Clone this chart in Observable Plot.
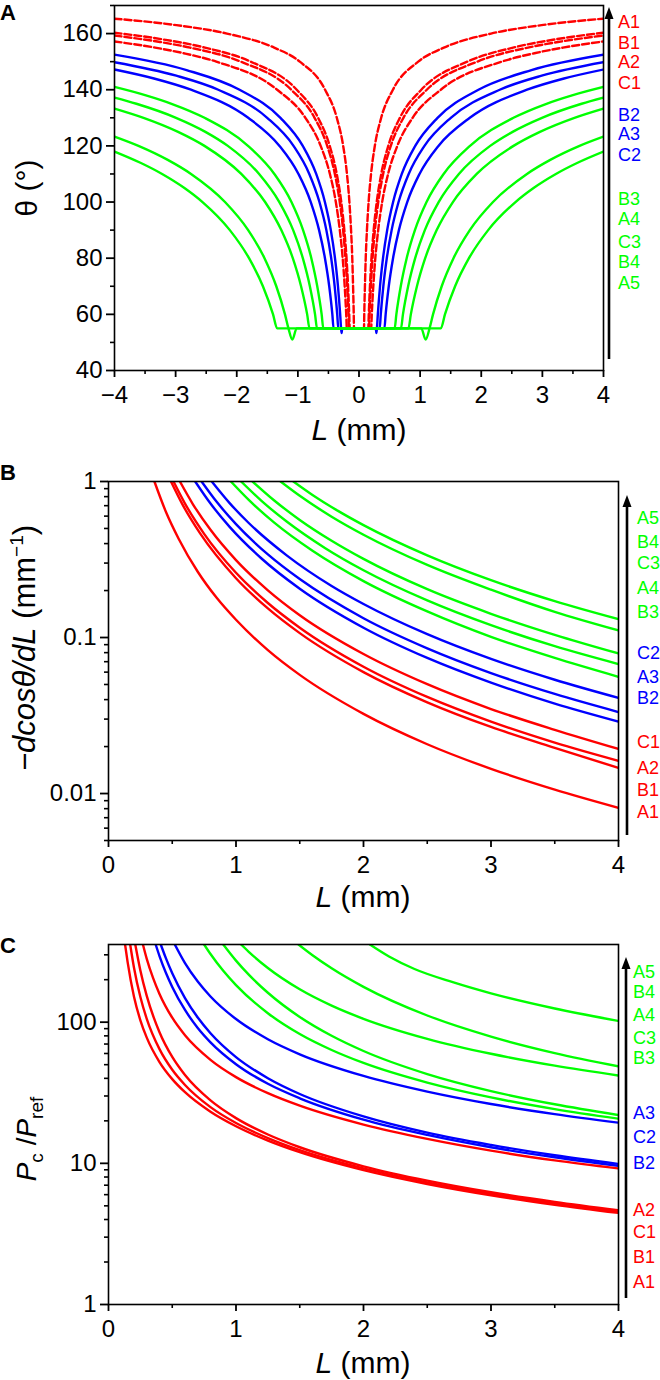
<!DOCTYPE html>
<html><head><meta charset="utf-8">
<script src="https://cdn.jsdelivr.net/npm/d3@7"></script>
<script src="https://cdn.jsdelivr.net/npm/@observablehq/plot@0.6"></script>
<style>
body{margin:0;background:#fff;}
#wrap{position:relative;width:660px;height:1380px;}
#wrap svg{position:absolute;left:0;overflow:visible;}
</style></head><body><div id="wrap"></div>
<script>
const FONT = '"Liberation Sans", Arial, sans-serif';
const RED = "#ff0000", BLUE = "#0000ff", GREEN = "#00ff00";

// ---------------- Panel A: theta (deg) vs L (mm), right half [L, theta]; left half is the mirror image
const a_A1 = [[0.082,55],[0.086,60],[0.097,70],[0.11,80],[0.13,90],[0.157,100],[0.197,110],[0.259,120],[0.363,130],[0.555,140],[0.969,150],[1.388,155],[2.16,160],[2.986,163],[4,165.3]];
const a_B1 = [[0.152,55],[0.16,60],[0.179,70],[0.204,80],[0.24,90],[0.29,100],[0.364,110],[0.479,120],[0.669,130],[1.019,140],[1.771,150],[2.521,155],[3.23,158],[4,160.3]];
const a_A2 = [[0.165,55],[0.173,60],[0.194,70],[0.222,80],[0.26,90],[0.315,100],[0.395,110],[0.52,120],[0.727,130],[1.109,140],[1.935,150],[2.763,155],[3.254,157],[4,159.3]];
const a_C1 = [[0.199,55],[0.209,60],[0.234,70],[0.267,80],[0.314,90],[0.379,100],[0.476,110],[0.627,120],[0.877,130],[1.339,140],[2.335,150],[2.869,153],[3.336,155],[4,157.2]];
const a_B2 = [[0.275,55],[0.284,53.3],[0.293,55],[0.308,60],[0.344,70],[0.393,80],[0.461,90],[0.558,100],[0.7,110],[0.92,120],[1.285,130],[1.954,140],[2.821,147],[4,152.5]];
const a_A3 = [[0.339,55],[0.356,60],[0.398,70],[0.455,80],[0.534,90],[0.647,100],[0.813,110],[1.071,120],[1.502,130],[2.302,140],[2.989,145],[4,149.8]];
const a_C2 = [[0.416,55],[0.436,60],[0.487,70],[0.557,80],[0.653,90],[0.789,100],[0.99,110],[1.3,120],[1.813,130],[2.749,140],[3.354,144],[4,147.2]];
const a_B3 = [[0.583,55],[0.611,60],[0.683,70],[0.78,80],[0.915,90],[1.105,100],[1.385,110],[1.816,120],[2.527,130],[3.067,135],[3.486,138],[4,141]];
const a_A4 = [[0.686,55],[0.719,60],[0.804,70],[0.919,80],[1.077,90],[1.303,100],[1.634,110],[2.146,120],[2.513,125],[2.994,130],[3.642,135],[4,137.2]];
const a_C3 = [[0.809,55],[0.848,60],[0.948,70],[1.083,80],[1.271,90],[1.536,100],[1.926,110],[2.528,120],[2.96,125],[3.525,130],[4,133.3]];
const a_B4 = [[1.02,55],[1.09,51],[1.154,55],[1.211,60],[1.353,70],[1.546,80],[1.813,90],[2.192,100],[2.748,110],[3.129,115],[3.608,120],[4,123.3]];
const a_A5 = [[0,55],[1.339,55],[1.406,60],[1.572,70],[1.799,80],[2.113,90],[2.56,100],[2.856,105],[3.221,110],[3.576,114],[4,118]];
const namesA = ["A1","B1","A2","C1","B2","A3","C2","B3","A4","C3","B4","A5"];
const colorsA = [RED,RED,RED,RED,BLUE,BLUE,BLUE,GREEN,GREEN,GREEN,GREEN,GREEN];
const dataA = [a_A1,a_B1,a_A2,a_C1,a_B2,a_A3,a_C2,a_B3,a_A4,a_C3,a_B4,a_A5];
const xTicksA = [-4,-3,-2,-1,0,1,2,3,4];
const xMinorA = [-3.5,-2.5,-1.5,-0.5,0.5,1.5,2.5,3.5];
const yTicksA = [40,60,80,100,120,140,160];
const yMinorA = [50,70,90,110,130,150,170];

// ---------------- Panel B: -dcos(theta)/dL (mm^-1) vs L (mm) [L, value]
const b_A5 = [[1.45,1],[1.6,0.82],[1.8,0.648],[2,0.525],[2.5,0.336],[3,0.233],[3.5,0.171],[4,0.131]];
const b_B4 = [[1.35,1],[1.5,0.81],[1.75,0.595],[2,0.456],[2.5,0.292],[3,0.2025],[3.5,0.146],[4,0.111]];
const b_C3 = [[1.13,1],[1.3,0.756],[1.5,0.567],[1.75,0.417],[2,0.319],[2.5,0.204],[3,0.142],[3.5,0.104],[4,0.079]];
const b_A4 = [[1.04,1],[1.2,0.751],[1.4,0.552],[1.7,0.374],[2,0.27],[2.5,0.173],[3,0.12],[3.5,0.088],[4,0.0676]];
const b_B3 = [[0.96,1],[1.1,0.762],[1.3,0.545],[1.6,0.36],[2,0.23],[2.5,0.147],[3,0.101],[3.5,0.074],[4,0.056]];
const b_C2 = [[0.81,1],[0.95,0.727],[1.1,0.542],[1.4,0.335],[1.75,0.214],[2,0.164],[2.5,0.105],[3,0.0729],[3.5,0.0536],[4,0.041]];
const b_A3 = [[0.73,1],[0.85,0.738],[1,0.533],[1.25,0.341],[1.5,0.237],[2,0.133],[2.5,0.0853],[3,0.0592],[3.5,0.0435],[4,0.0333]];
const b_B2 = [[0.68,1],[0.8,0.7225],[0.95,0.512],[1.2,0.321],[1.5,0.2055],[2,0.1156],[2.5,0.074],[3,0.0514],[3.5,0.0377],[4,0.0289]];
const b_C1 = [[0.56,1],[0.66,0.72],[0.8,0.49],[1,0.3136],[1.25,0.2007],[1.5,0.139],[2,0.0784],[2.5,0.0502],[3,0.0348],[3.5,0.0256],[4,0.0193]];
const b_A2 = [[0.51,1],[0.6,0.722],[0.75,0.462],[1,0.26],[1.25,0.1664],[1.5,0.1156],[2,0.065],[2.5,0.0416],[3,0.0289],[3.5,0.0212],[4,0.0162]];
const b_B1 = [[0.49,1],[0.58,0.713],[0.72,0.463],[1,0.24],[1.25,0.1536],[1.5,0.1067],[2,0.06],[2.5,0.0384],[3,0.0267],[3.5,0.0196],[4,0.0146]];
const b_A1 = [[0.36,1],[0.45,0.64],[0.55,0.43],[0.7,0.264],[0.85,0.179],[1,0.13],[1.25,0.083],[1.5,0.0576],[2,0.0324],[2.5,0.0207],[3,0.0144],[3.5,0.0106],[4,0.0081]];
const namesB = ["A5","B4","C3","A4","B3","C2","A3","B2","C1","A2","B1","A1"];
const colorsB = [GREEN,GREEN,GREEN,GREEN,GREEN,BLUE,BLUE,BLUE,RED,RED,RED,RED];
const dataB = [b_A5,b_B4,b_C3,b_A4,b_B3,b_C2,b_A3,b_B2,b_C1,b_A2,b_B1,b_A1];
const xTicksB = [0,1,2,3,4];
const xMinorB = [0.5,1.5,2.5,3.5];
const yTicksB = [1,0.1,0.01];
const yMinorB = [0.005,0.006,0.007,0.008,0.009,0.02,0.03,0.04,0.05,0.06,0.07,0.08,0.09,0.2,0.3,0.4,0.5,0.6,0.7,0.8,0.9];

// ---------------- Panel C: Pc/Pref vs L (mm) [L, value]
const c_A5 = [[2.05,355],[2.2,292],[2.4,238],[2.7,192],[3,160],[3.5,125],[4,102]];
const c_B4 = [[1.49,355],[1.6,298],[1.75,241],[2,178],[2.5,111.5],[3,79],[3.5,60.4],[4,48.7]];
const c_A4 = [[1.04,355],[1.1,315],[1.25,242],[1.5,171],[1.75,131],[2,105.7],[2.5,76.2],[3,59.7],[3.5,49.2],[4,41.9]];
const c_C3 = [[0.9,355],[1,273],[1.1,217],[1.25,161.6],[1.5,108.9],[1.75,80.1],[2,62.5],[2.5,42.9],[3,32.5],[3.5,26.2],[4,22]];
const c_B3 = [[0.75,355],[0.8,304],[0.9,231],[1,183],[1.25,115.7],[1.5,82.4],[1.75,63.5],[2,51.4],[2.5,37.3],[3,29.3],[3.5,24.2],[4,20.7]];
const c_A3 = [[0.52,355],[0.6,262],[0.7,194],[0.8,152],[1,105.2],[1.25,75.7],[1.5,59.2],[2,41.6],[2.5,32.2],[3,26.3],[3.5,22.3],[4,19.4]];
const c_C2 = [[0.41,355],[0.45,284],[0.5,221.7],[0.6,147.9],[0.7,107.8],[0.8,83.5],[1,56.6],[1.25,40.1],[1.5,31],[2,21.5],[2.5,16.5],[3,13.5],[3.5,11.4],[4,9.9]];
const c_B2 = [[0.37,355],[0.4,294],[0.45,224],[0.5,177.6],[0.6,122],[0.7,91],[0.8,72],[1,50.4],[1.25,36.6],[1.5,28.9],[2,20.4],[2.5,15.9],[3,13],[3.5,11.04],[4,9.6]];
const c_A2 = [[0.27,355],[0.3,281],[0.35,205],[0.4,158.5],[0.5,107.5],[0.6,80.8],[0.8,54.1],[1,40.8],[1.25,31.4],[1.5,25.6],[2,18.8],[2.5,14.9],[3,12.3],[3.5,10.5],[4,9.2]];
const c_C1 = [[0.21,355],[0.25,232.5],[0.3,153.4],[0.4,84.9],[0.5,56.7],[0.6,42.2],[0.8,27.9],[1,20.9],[1.25,16],[1.5,13],[2,9.53],[2.5,7.54],[3,6.24],[3.5,5.33],[4,4.65]];
const c_B1 = [[0.17,355],[0.2,243],[0.25,150.6],[0.3,105.6],[0.4,64.4],[0.5,46],[0.6,35.9],[0.8,25],[1,19.3],[1.25,15.1],[1.5,12.4],[2,9.2],[2.5,7.33],[3,6.09],[3.5,5.21],[4,4.55]];
const c_A1 = [[0.13,355],[0.15,266.6],[0.2,151.4],[0.25,103.1],[0.3,77.7],[0.4,52.2],[0.5,39.5],[0.6,31.9],[0.8,23.2],[1,18.3],[1.25,14.5],[1.5,12],[2,8.95],[2.5,7.14],[3,5.94],[3.5,5.09],[4,4.45]];
const namesC = ["A5","B4","A4","C3","B3","A3","C2","B2","A2","C1","B1","A1"];
const colorsC = [GREEN,GREEN,GREEN,GREEN,GREEN,BLUE,BLUE,BLUE,RED,RED,RED,RED];
const dataC = [c_A5,c_B4,c_A4,c_C3,c_B3,c_A3,c_C2,c_B2,c_A2,c_C1,c_B1,c_A1];
const xTicksC = [0,1,2,3,4];
const xMinorC = [0.5,1.5,2.5,3.5];
const yTicksC = [1,10,100];
const yMinorC = [2,3,4,5,6,7,8,9,20,30,40,50,60,70,80,90,200,300];

// ---------------- layout (pixel) of the side annotations
const labelYA = [22,43,62,83,115,134,155,199,219,242,262,283];
const labelYB = [518,542,563,588,612,653,677,698,742,768,790,812];
const labelYC = [972,992,1015,1038,1058,1113,1137,1163,1210,1232,1257,1282];

const wrap = document.getElementById("wrap");

function mirror(pts){
  const left = pts.filter(p => p[0] > 0).map(([x,y]) => [-x,y]).reverse();
  return left.concat(pts);
}

function axes(xT, xM, yT, yM, fmtY){
  return [
    Plot.frame({stroke:"#000", strokeWidth:1.6}),
    Plot.axisX(xT, {tickSize:7, tickPadding:8, strokeWidth:1.8, label:null, tickFormat: d => (d < 0 ? "−" : "") + Math.abs(d)}),
    Plot.axisX(xM, {tickSize:4, strokeWidth:1.6, tickFormat:() => "", label:null}),
    Plot.axisY(yT, {tickSize:8, tickPadding:4, strokeWidth:1.8, label:null, tickFormat: fmtY}),
    Plot.axisY(yM, {tickSize:4, strokeWidth:1.6, tickFormat:() => "", label:null})
  ];
}

function decorate(svg, top, opts){
  const s = d3.select(svg);
  s.append("text").attr("x",0).attr("y",opts.letterY).attr("text-anchor","start").attr("font-family",FONT)
    .attr("font-weight","bold").attr("font-size",22).attr("fill","#000").text(opts.letter);
  const xt = s.append("text").attr("x",opts.xTitleX).attr("y",opts.xTitleY).attr("text-anchor","middle")
    .attr("font-family",FONT).attr("font-size",30).attr("fill","#000");
  xt.append("tspan").attr("font-style","italic").text("L");
  xt.append("tspan").text(" (mm)");
  const yt = s.append("text").attr("transform",`translate(${opts.yTitleX},${opts.yTitleY}) rotate(-90)`)
    .attr("text-anchor","middle").attr("font-family",FONT).attr("font-size",opts.yTitleSize).attr("fill","#000");
  opts.yTitle(yt);
  const ax = opts.arrowX, t0 = opts.arrowTop - top;
  s.append("line").attr("x1",ax).attr("x2",ax).attr("y1",opts.arrowBottom - top).attr("y2",t0 + 8)
    .attr("stroke","#000").attr("stroke-width",2.6);
  s.append("path").attr("d",`M${ax},${t0} L${ax-4.5},${t0 + 12} L${ax+4.5},${t0 + 12} Z`).attr("fill","#000");
  opts.names.forEach((n,i) => {
    s.append("text").attr("x",opts.labelX).attr("y",opts.labelY[i] - top).attr("dy","0.35em")
      .attr("text-anchor","start").attr("font-family",FONT).attr("font-size",18)
      .attr("fill",opts.colors[i]).text(n);
  });
}

function place(svg, top){
  svg.style.top = top + "px";
  wrap.appendChild(svg);
}

const baseStyle = {fontFamily:FONT, fontSize:"24px", color:"#000", background:"none", overflow:"visible"};

// ---------- Panel A
const plotA = Plot.plot({
  width:660, height:460, marginTop:5, marginLeft:114, marginRight:57, marginBottom:90,
  x:{domain:[-4,4]}, y:{domain:[40,170]}, style: baseStyle,
  marks:[
    ...dataA.map((d,i) => Plot.line(mirror(d), {x:p=>p[0], y:p=>p[1], stroke:colorsA[i], strokeWidth:2.4,
      strokeDasharray: colorsA[i] === RED ? "7,3" : undefined, curve:"monotone-x", clip:true})),
    ...axes(xTicksA, xMinorA, yTicksA, yMinorA, undefined)
  ]
});
place(plotA, 0);
decorate(plotA, 0, {letter:"A", letterY:20, xTitleX:359, xTitleY:440, yTitleX:37, yTitleY:188, yTitleSize:30,
  yTitle: t => { t.text("θ (°)"); },
  arrowX:609, arrowTop:7, arrowBottom:359, labelX:618, labelY:labelYA, names:namesA, colors:colorsA});

// ---------- Panel B
const plotB = Plot.plot({
  width:660, height:460, marginTop:21, marginLeft:108, marginRight:42, marginBottom:80,
  x:{domain:[0,4]}, y:{type:"log", domain:[0.005,1]}, style: baseStyle,
  marks:[
    ...dataB.map((d,i) => Plot.line(d, {x:p=>p[0], y:p=>p[1], stroke:colorsB[i], strokeWidth:2.4, curve:"monotone-x", clip:true})),
    ...axes(xTicksB, xMinorB, yTicksB, yMinorB, d => String(d))
  ]
});
place(plotB, 460);
decorate(plotB, 460, {letter:"B", letterY:20, xTitleX:363, xTitleY:447, yTitleX:35, yTitleY:188, yTitleSize:31,
  yTitle: t => {
    t.append("tspan").attr("font-style","italic").text("−dcosθ/dL");
    t.append("tspan").text(" (mm");
    t.append("tspan").attr("font-size",19).attr("dy",-12).text("−1");
    t.append("tspan").attr("dy",12).text(")");
  },
  arrowX:627, arrowTop:495, arrowBottom:835, labelX:637, labelY:labelYB, names:namesB, colors:colorsB});

// ---------- Panel C
const plotC = Plot.plot({
  width:660, height:460, marginTop:24, marginLeft:108, marginRight:42, marginBottom:76,
  x:{domain:[0,4]}, y:{type:"log", domain:[1,355]}, style: baseStyle,
  marks:[
    ...dataC.map((d,i) => Plot.line(d, {x:p=>p[0], y:p=>p[1], stroke:colorsC[i], strokeWidth:2.4, curve:"monotone-x", clip:true})),
    ...axes(xTicksC, xMinorC, yTicksC, yMinorC, d => String(d))
  ]
});
place(plotC, 920);
decorate(plotC, 920, {letter:"C", letterY:33, xTitleX:363, xTitleY:453, yTitleX:36, yTitleY:219, yTitleSize:28,
  yTitle: t => {
    t.append("tspan").attr("font-style","italic").text("P");
    t.append("tspan").attr("font-size",19).attr("dy",7).text("c");
    t.append("tspan").attr("dy",-7).text(" /");
    t.append("tspan").attr("font-style","italic").text("P");
    t.append("tspan").attr("font-size",19).attr("dy",7).text("ref");
  },
  arrowX:626, arrowTop:957, arrowBottom:1298, labelX:633, labelY:labelYC, names:namesC, colors:colorsC});
</script></body></html>
